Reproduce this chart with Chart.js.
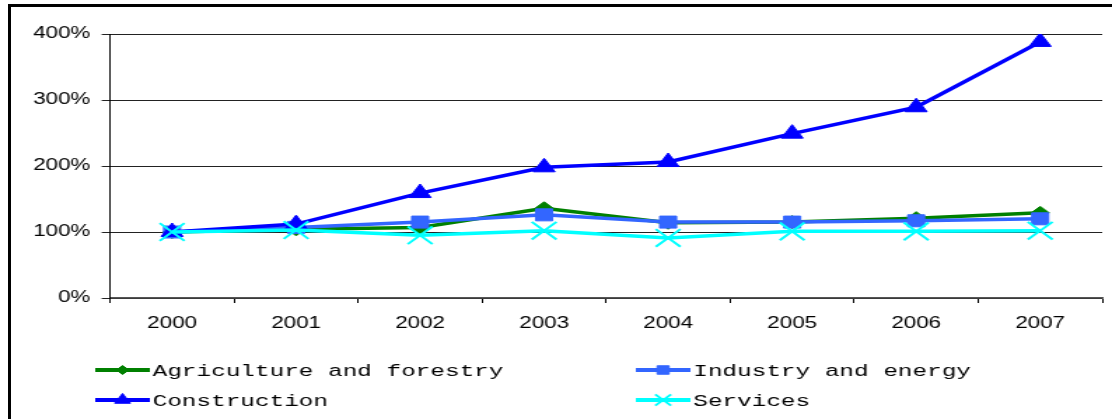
<!DOCTYPE html>
<html>
<head>
<meta charset="utf-8">
<title>Sector growth 2000-2007</title>
<script src="https://cdn.jsdelivr.net/npm/chart.js@4.4.1/dist/chart.umd.min.js"></script>
<style>
  html, body { margin: 0; padding: 0; background: #fff; overflow: hidden; }
  #frame { position: absolute; left: 8px; top: 4px; width: 1200px; height: 500px; border-left: 3px solid #000; border-top: 3px solid #000; }
  /* chart is drawn narrow and stretched sideways, like the old spreadsheet export */
  #wrap { position: absolute; left: 0; top: 0; width: 794px; height: 419px; transform: scaleX(1.4005); transform-origin: 0 0; }
</style>
</head>
<body>
<div id="frame"></div>
<div id="wrap"><canvas id="growthChart" width="794" height="419"></canvas></div>
<script>
// index, 2000 = 100%
const years = ["2000", "2001", "2002", "2003", "2004", "2005", "2006", "2007"];
const agriculture = [100, 104, 107, 136, 114, 115, 121, 129];
const industry = [100, 107, 115, 126, 115, 115, 117, 120];
const construction = [100, 112, 159, 198, 206, 249, 289, 388];
const services = [100, 103, 95, 102, 91, 101, 101, 102];
const yTicks = [0, 100, 200, 300, 400];

const axisFont = { family: "'Liberation Sans', Arial, sans-serif", size: 16 };
const legendFont = "17.4px 'Liberation Mono', 'Courier New', monospace";

// legend is laid out in two columns below the plot
const legendCols = [68, 454];
const legendRows = [370, 400];
const legendRadius = [4.5, 6, 6.5, 8];

function makeSet(label, data, color, style, radius, order) {
    return {
        label: label,
        data: data,
        borderColor: color,
        backgroundColor: color,
        borderWidth: 3.5,
        pointStyle: style,
        pointRadius: radius,
        pointHoverRadius: radius,
        pointBackgroundColor: color,
        pointBorderColor: color,
        pointBorderWidth: style === "crossRot" ? 2 : 1,
        tension: 0,
        order: order
    };
}

const sectorLegend = {
    id: "sectorLegend",
    afterDraw(chart) {
        const ctx = chart.ctx;
        ctx.save();
        chart.data.datasets.forEach(function (ds, i) {
            const x0 = legendCols[i % 2];
            const y = legendRows[Math.floor(i / 2)];
            ctx.strokeStyle = ds.borderColor;
            ctx.lineWidth = 4;
            ctx.beginPath();
            ctx.moveTo(x0, y);
            ctx.lineTo(x0 + 39, y);
            ctx.stroke();
            ctx.fillStyle = ds.pointBackgroundColor;
            ctx.lineWidth = ds.pointBorderWidth;
            Chart.helpers.drawPoint(ctx, {
                pointStyle: ds.pointStyle,
                radius: legendRadius[i],
                rotation: 0,
                borderWidth: ds.pointBorderWidth
            }, x0 + 19.5, y);
            ctx.fillStyle = "#000";
            ctx.font = legendFont;
            ctx.textBaseline = "middle";
            ctx.textAlign = "left";
            ctx.fillText(ds.label, x0 + 41, y + 1);
        });
        ctx.restore();
    }
};

const canvas = document.getElementById("growthChart");
const growthChart = new Chart(canvas, {
    type: "line",
    data: {
        labels: years,
        datasets: [
            makeSet("Agriculture and forestry", agriculture, "#008000", "rectRot", 6.5, 4),
            makeSet("Industry and energy", industry, "#3366FF", "rect", 8.5, 3),
            makeSet("Construction", construction, "#0000FF", "triangle", 9, 2),
            makeSet("Services", services, "#00FFFF", "crossRot", 12.5, 1)
        ]
    },
    options: {
        responsive: false,
        animation: false,
        // big markers would otherwise push the plot edges inwards
        layout: { autoPadding: false, padding: { top: 34, right: 7, bottom: 0, left: 0 } },
        plugins: {
            legend: { display: false },
            tooltip: { enabled: false }
        },
        scales: {
            x: {
                offset: true,
                grid: { offset: true, drawOnChartArea: false, drawTicks: true, tickLength: 5, color: "#000" },
                border: { color: "#555", width: 1.5 },
                ticks: { color: "#000", font: axisFont, padding: 11, maxRotation: 0 },
                afterFit(scale) { scale.height = 121; }
            },
            y: {
                min: yTicks[0],
                max: yTicks[yTicks.length - 1],
                afterBuildTicks(scale) { scale.ticks = yTicks.map(v => ({ value: v })); },
                grid: { color: "#222", tickLength: 6, drawTicks: true },
                border: { color: "#000" },
                ticks: { color: "#000", font: axisFont, padding: 8, callback: v => v + "%" },
                afterFit(scale) { scale.width = 78.6; }
            }
        }
    },
    plugins: [sectorLegend]
});
</script>
</body>
</html>
